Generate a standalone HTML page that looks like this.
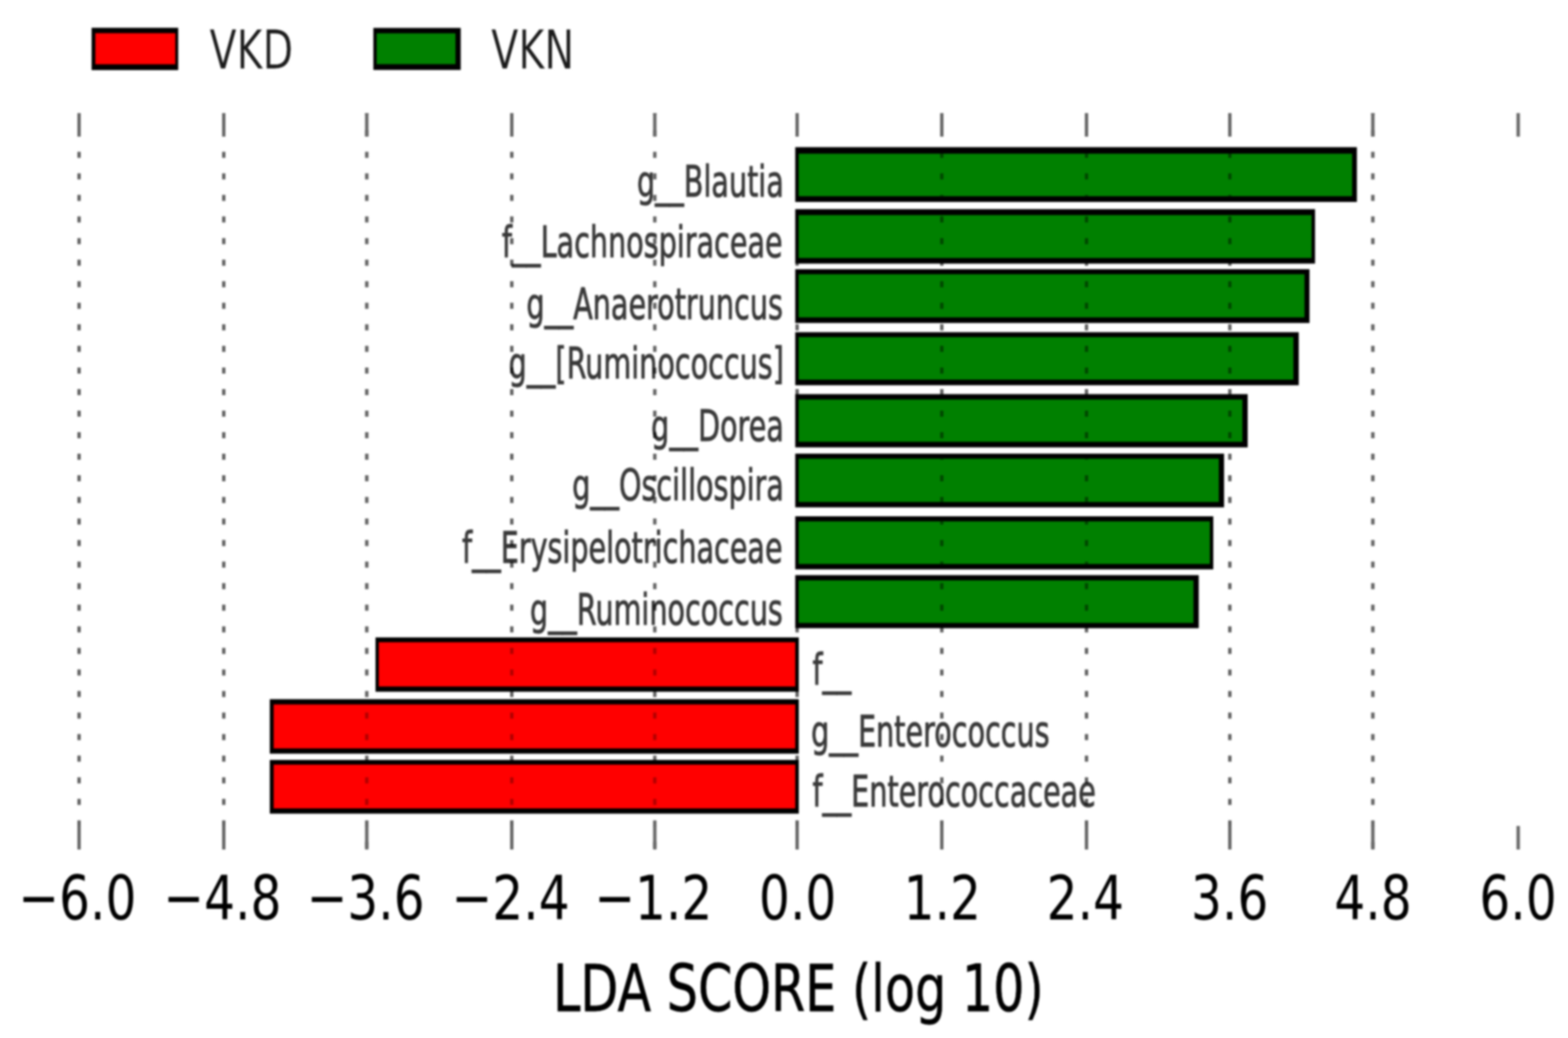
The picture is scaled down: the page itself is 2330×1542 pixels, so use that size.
<!DOCTYPE html>
<html><head><meta charset="utf-8"><title>LDA SCORE</title>
<style>
html,body{margin:0;padding:0;background:#fff;}
body{width:2330px;height:1542px;overflow:hidden;}
svg{display:block;}
#chart{filter:blur(1.4px);}
text{font-family:"DejaVu Sans", "Liberation Sans", sans-serif;}
</style></head>
<body>
<svg width="2330" height="1542" viewBox="0 0 2330 1542">
<rect width="2330" height="1542" fill="#fff"/>
<g id="chart">
<defs><clipPath id="cg"><rect x="1186.8" y="228.3" width="822.40" height="63.20"/><rect x="1186.8" y="319.5" width="762.10" height="63.80"/><rect x="1186.8" y="407.4" width="751.60" height="64.10"/><rect x="1186.8" y="500.8" width="735.10" height="63.20"/><rect x="1186.8" y="593.5" width="659.30" height="62.80"/><rect x="1186.8" y="681.4" width="624.30" height="64.30"/><rect x="1186.8" y="774.5" width="611.00" height="63.30"/><rect x="1186.8" y="862.2" width="586.60" height="63.20"/></clipPath><clipPath id="cr"><rect x="562.9" y="954.1" width="618.80" height="65.70"/><rect x="406.7" y="1046.5" width="775.00" height="65.30"/><rect x="406.7" y="1135.9" width="775.00" height="65.00"/></clipPath></defs>
<rect x="136.1" y="41.3" width="128.70" height="62.80" fill="#000"/><rect x="141.7" y="49.3" width="118.80" height="46.20" fill="#ff0000"/>
<rect x="554.8" y="41.5" width="129.80" height="62.40" fill="#000"/><rect x="559.7" y="49.5" width="117.10" height="45.80" fill="#008000"/>
<text transform="translate(311.27,102.00) scale(0.728,1)" font-size="81" fill="#1a1a1a" stroke="#fff" stroke-width="0.6">VKD</text>
<text transform="translate(729.77,102.00) scale(0.731,1)" font-size="81" fill="#1a1a1a" stroke="#fff" stroke-width="0.6">VKN</text>
<text transform="translate(946.50,292.10) scale(0.66,1)" font-size="64.5" fill="#383838" stroke="#383838" stroke-width="1.2">g__Blautia</text>
<text transform="translate(745.86,381.60) scale(0.66,1)" font-size="64.5" fill="#383838" stroke="#383838" stroke-width="1.2">f__Lachnospiraceae</text>
<text transform="translate(782.16,473.80) scale(0.66,1)" font-size="64.5" fill="#383838" stroke="#383838" stroke-width="1.2">g__Anaerotruncus</text>
<text transform="translate(755.76,562.20) scale(0.66,1)" font-size="64.5" fill="#383838" stroke="#383838" stroke-width="1.2">g__[Ruminococcus]</text>
<text transform="translate(967.62,655.30) scale(0.66,1)" font-size="64.5" fill="#383838" stroke="#383838" stroke-width="1.2">g__Dorea</text>
<text transform="translate(850.14,743.20) scale(0.66,1)" font-size="64.5" fill="#383838" stroke="#383838" stroke-width="1.2">g__Oscillospira</text>
<text transform="translate(686.46,836.10) scale(0.66,1)" font-size="64.5" fill="#383838" stroke="#383838" stroke-width="1.2">f__Erysipelotrichaceae</text>
<text transform="translate(787.44,928.10) scale(0.66,1)" font-size="64.5" fill="#383838" stroke="#383838" stroke-width="1.2">g__Ruminococcus</text>
<text transform="translate(1207.34,1017.10) scale(0.66,1)" font-size="64.5" fill="#383838" stroke="#383838" stroke-width="1.2">f__</text>
<text transform="translate(1205.36,1109.20) scale(0.66,1)" font-size="64.5" fill="#383838" stroke="#383838" stroke-width="1.2">g__Enterococcus</text>
<text transform="translate(1207.34,1197.90) scale(0.66,1)" font-size="64.5" fill="#383838" stroke="#383838" stroke-width="1.2">f__Enterococcaceae</text>
<line x1="117.5" y1="168" x2="117.5" y2="1262" stroke="#000" stroke-opacity="0.62" stroke-width="5" stroke-dasharray="9 23.04" stroke-dashoffset="6.58"/>
<line x1="332.5" y1="168" x2="332.5" y2="1262" stroke="#000" stroke-opacity="0.62" stroke-width="5" stroke-dasharray="9 23.04" stroke-dashoffset="6.58"/>
<line x1="545" y1="168" x2="545" y2="1262" stroke="#000" stroke-opacity="0.62" stroke-width="5" stroke-dasharray="9 23.04" stroke-dashoffset="6.58"/>
<line x1="760.5" y1="168" x2="760.5" y2="1262" stroke="#000" stroke-opacity="0.62" stroke-width="5" stroke-dasharray="9 23.04" stroke-dashoffset="6.58"/>
<line x1="973" y1="168" x2="973" y2="1262" stroke="#000" stroke-opacity="0.62" stroke-width="5" stroke-dasharray="9 23.04" stroke-dashoffset="6.58"/>
<line x1="1184.5" y1="168" x2="1184.5" y2="1262" stroke="#000" stroke-opacity="0.62" stroke-width="5" stroke-dasharray="9 23.04" stroke-dashoffset="6.58"/>
<line x1="1399.5" y1="168" x2="1399.5" y2="1262" stroke="#000" stroke-opacity="0.62" stroke-width="5" stroke-dasharray="9 23.04" stroke-dashoffset="6.58"/>
<line x1="1614.5" y1="168" x2="1614.5" y2="1262" stroke="#000" stroke-opacity="0.62" stroke-width="5" stroke-dasharray="9 23.04" stroke-dashoffset="6.58"/>
<line x1="1827.5" y1="168" x2="1827.5" y2="1262" stroke="#000" stroke-opacity="0.62" stroke-width="5" stroke-dasharray="9 23.04" stroke-dashoffset="6.58"/>
<line x1="2040" y1="168" x2="2040" y2="1262" stroke="#000" stroke-opacity="0.62" stroke-width="5" stroke-dasharray="9 23.04" stroke-dashoffset="6.58"/>
<rect x="1181.7" y="218.6" width="834.60" height="81.40" fill="#000"/><rect x="1186.8" y="228.3" width="822.40" height="63.20" fill="#008000"/>
<rect x="1181.7" y="310.7" width="772.40" height="80.90" fill="#000"/><rect x="1186.8" y="319.5" width="762.10" height="63.80" fill="#008000"/>
<rect x="1181.7" y="399.9" width="764.20" height="79.90" fill="#000"/><rect x="1186.8" y="407.4" width="751.60" height="64.10" fill="#008000"/>
<rect x="1181.7" y="493.5" width="748.20" height="78.80" fill="#000"/><rect x="1186.8" y="500.8" width="735.10" height="63.20" fill="#008000"/>
<rect x="1181.7" y="585.5" width="672.30" height="79.10" fill="#000"/><rect x="1186.8" y="593.5" width="659.30" height="62.80" fill="#008000"/>
<rect x="1181.7" y="673.9" width="637.20" height="79.80" fill="#000"/><rect x="1186.8" y="681.4" width="624.30" height="64.30" fill="#008000"/>
<rect x="1181.7" y="767.0" width="621.20" height="78.80" fill="#000"/><rect x="1186.8" y="774.5" width="611.00" height="63.30" fill="#008000"/>
<rect x="1181.7" y="854.4" width="599.60" height="78.80" fill="#000"/><rect x="1186.8" y="862.2" width="586.60" height="63.20" fill="#008000"/>
<rect x="558.0" y="946.9" width="629.00" height="80.70" fill="#000"/><rect x="562.9" y="954.1" width="618.80" height="65.70" fill="#ff0000"/>
<rect x="400.9" y="1038.7" width="786.10" height="80.90" fill="#000"/><rect x="406.7" y="1046.5" width="775.00" height="65.30" fill="#ff0000"/>
<rect x="400.9" y="1128.9" width="786.10" height="79.80" fill="#000"/><rect x="406.7" y="1135.9" width="775.00" height="65.00" fill="#ff0000"/>
<g clip-path="url(#cg)"><line x1="117.5" y1="168" x2="117.5" y2="1262" stroke="#000" stroke-opacity="0.44" stroke-width="5" stroke-dasharray="9 23.04" stroke-dashoffset="6.58"/><line x1="332.5" y1="168" x2="332.5" y2="1262" stroke="#000" stroke-opacity="0.44" stroke-width="5" stroke-dasharray="9 23.04" stroke-dashoffset="6.58"/><line x1="545" y1="168" x2="545" y2="1262" stroke="#000" stroke-opacity="0.44" stroke-width="5" stroke-dasharray="9 23.04" stroke-dashoffset="6.58"/><line x1="760.5" y1="168" x2="760.5" y2="1262" stroke="#000" stroke-opacity="0.44" stroke-width="5" stroke-dasharray="9 23.04" stroke-dashoffset="6.58"/><line x1="973" y1="168" x2="973" y2="1262" stroke="#000" stroke-opacity="0.44" stroke-width="5" stroke-dasharray="9 23.04" stroke-dashoffset="6.58"/><line x1="1184.5" y1="168" x2="1184.5" y2="1262" stroke="#000" stroke-opacity="0.44" stroke-width="5" stroke-dasharray="9 23.04" stroke-dashoffset="6.58"/><line x1="1399.5" y1="168" x2="1399.5" y2="1262" stroke="#000" stroke-opacity="0.44" stroke-width="5" stroke-dasharray="9 23.04" stroke-dashoffset="6.58"/><line x1="1614.5" y1="168" x2="1614.5" y2="1262" stroke="#000" stroke-opacity="0.44" stroke-width="5" stroke-dasharray="9 23.04" stroke-dashoffset="6.58"/><line x1="1827.5" y1="168" x2="1827.5" y2="1262" stroke="#000" stroke-opacity="0.44" stroke-width="5" stroke-dasharray="9 23.04" stroke-dashoffset="6.58"/><line x1="2040" y1="168" x2="2040" y2="1262" stroke="#000" stroke-opacity="0.44" stroke-width="5" stroke-dasharray="9 23.04" stroke-dashoffset="6.58"/></g>
<g clip-path="url(#cr)"><line x1="117.5" y1="168" x2="117.5" y2="1262" stroke="#000" stroke-opacity="0.3" stroke-width="5" stroke-dasharray="9 23.04" stroke-dashoffset="6.58"/><line x1="332.5" y1="168" x2="332.5" y2="1262" stroke="#000" stroke-opacity="0.3" stroke-width="5" stroke-dasharray="9 23.04" stroke-dashoffset="6.58"/><line x1="545" y1="168" x2="545" y2="1262" stroke="#000" stroke-opacity="0.3" stroke-width="5" stroke-dasharray="9 23.04" stroke-dashoffset="6.58"/><line x1="760.5" y1="168" x2="760.5" y2="1262" stroke="#000" stroke-opacity="0.3" stroke-width="5" stroke-dasharray="9 23.04" stroke-dashoffset="6.58"/><line x1="973" y1="168" x2="973" y2="1262" stroke="#000" stroke-opacity="0.3" stroke-width="5" stroke-dasharray="9 23.04" stroke-dashoffset="6.58"/><line x1="1184.5" y1="168" x2="1184.5" y2="1262" stroke="#000" stroke-opacity="0.3" stroke-width="5" stroke-dasharray="9 23.04" stroke-dashoffset="6.58"/><line x1="1399.5" y1="168" x2="1399.5" y2="1262" stroke="#000" stroke-opacity="0.3" stroke-width="5" stroke-dasharray="9 23.04" stroke-dashoffset="6.58"/><line x1="1614.5" y1="168" x2="1614.5" y2="1262" stroke="#000" stroke-opacity="0.3" stroke-width="5" stroke-dasharray="9 23.04" stroke-dashoffset="6.58"/><line x1="1827.5" y1="168" x2="1827.5" y2="1262" stroke="#000" stroke-opacity="0.3" stroke-width="5" stroke-dasharray="9 23.04" stroke-dashoffset="6.58"/><line x1="2040" y1="168" x2="2040" y2="1262" stroke="#000" stroke-opacity="0.3" stroke-width="5" stroke-dasharray="9 23.04" stroke-dashoffset="6.58"/></g>
<line x1="117.5" y1="168" x2="117.5" y2="203" stroke="#666" stroke-width="5"/>
<line x1="117.5" y1="1227" x2="117.5" y2="1262" stroke="#666" stroke-width="5"/>
<line x1="332.5" y1="168" x2="332.5" y2="203" stroke="#666" stroke-width="5"/>
<line x1="332.5" y1="1227" x2="332.5" y2="1262" stroke="#666" stroke-width="5"/>
<line x1="545" y1="168" x2="545" y2="203" stroke="#666" stroke-width="5"/>
<line x1="545" y1="1227" x2="545" y2="1262" stroke="#666" stroke-width="5"/>
<line x1="760.5" y1="168" x2="760.5" y2="203" stroke="#666" stroke-width="5"/>
<line x1="760.5" y1="1227" x2="760.5" y2="1262" stroke="#666" stroke-width="5"/>
<line x1="973" y1="168" x2="973" y2="203" stroke="#666" stroke-width="5"/>
<line x1="973" y1="1227" x2="973" y2="1262" stroke="#666" stroke-width="5"/>
<line x1="1184.5" y1="168" x2="1184.5" y2="203" stroke="#666" stroke-width="5"/>
<line x1="1184.5" y1="1227" x2="1184.5" y2="1262" stroke="#666" stroke-width="5"/>
<line x1="1399.5" y1="168" x2="1399.5" y2="203" stroke="#666" stroke-width="5"/>
<line x1="1399.5" y1="1227" x2="1399.5" y2="1262" stroke="#666" stroke-width="5"/>
<line x1="1614.5" y1="168" x2="1614.5" y2="203" stroke="#666" stroke-width="5"/>
<line x1="1614.5" y1="1227" x2="1614.5" y2="1262" stroke="#666" stroke-width="5"/>
<line x1="1827.5" y1="168" x2="1827.5" y2="203" stroke="#666" stroke-width="5"/>
<line x1="1827.5" y1="1227" x2="1827.5" y2="1262" stroke="#666" stroke-width="5"/>
<line x1="2040" y1="168" x2="2040" y2="203" stroke="#666" stroke-width="5"/>
<line x1="2040" y1="1227" x2="2040" y2="1262" stroke="#666" stroke-width="5"/>
<line x1="2256" y1="168" x2="2256" y2="203" stroke="#666" stroke-width="5"/>
<line x1="2256" y1="1227" x2="2256" y2="1262" stroke="#666" stroke-width="5"/>
<text transform="translate(27.06,1365.50) scale(0.795,1)" font-size="91" fill="#000"><tspan dy="-1">−</tspan><tspan dy="1">6.0</tspan></text>
<text transform="translate(242.56,1365.50) scale(0.795,1)" font-size="91" fill="#000"><tspan dy="-1">−</tspan><tspan dy="1">4.8</tspan></text>
<text transform="translate(455.46,1365.50) scale(0.795,1)" font-size="91" fill="#000"><tspan dy="-1">−</tspan><tspan dy="1">3.6</tspan></text>
<text transform="translate(670.76,1365.50) scale(0.795,1)" font-size="91" fill="#000"><tspan dy="-1">−</tspan><tspan dy="1">2.4</tspan></text>
<text transform="translate(882.96,1365.50) scale(0.795,1)" font-size="91" fill="#000"><tspan dy="-1">−</tspan><tspan dy="1">1.2</tspan></text>
<text transform="translate(1127.86,1365.50) scale(0.795,1)" font-size="91" fill="#000">0.0</text>
<text transform="translate(1342.76,1365.50) scale(0.795,1)" font-size="91" fill="#000">1.2</text>
<text transform="translate(1555.17,1365.50) scale(0.795,1)" font-size="91" fill="#000">2.4</text>
<text transform="translate(1769.76,1365.50) scale(0.795,1)" font-size="91" fill="#000">3.6</text>
<text transform="translate(1982.65,1365.50) scale(0.795,1)" font-size="91" fill="#000">4.8</text>
<text transform="translate(2198.16,1365.50) scale(0.795,1)" font-size="91" fill="#000">6.0</text>
<text transform="translate(821.64,1502.00) scale(0.762,1)" font-size="96" fill="#000" stroke="#000" stroke-width="0.8">LDA SCORE (log 10)</text>
</g>
</svg>
</body></html>
